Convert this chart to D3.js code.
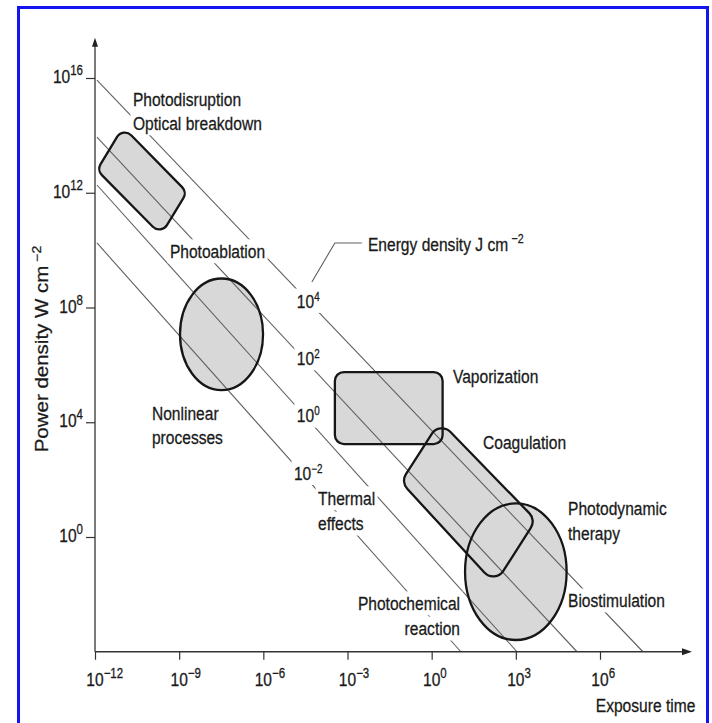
<!DOCTYPE html>
<html>
<head>
<meta charset="utf-8">
<script src="https://cdn.jsdelivr.net/npm/d3@7"></script>
<style>
  html, body { margin: 0; padding: 0; background: #fff; }
  svg { display: block; }
</style>
</head>
<body>
<svg id="chart" width="712" height="723"></svg>
<script>
// ---- axis ticks (powers of ten) ----
const timeTickExps = [-12, -9, -6, -3, 0, 3, 6];      // exposure time, s
const powerTickExps = [0, 4, 8, 12, 16];              // power density, W cm^-2

// ---- iso-energy lines (J cm^-2), as drawn ----
const energyExps = [4, 2, 0, -2];
const energyLineStartLogP = [15.93, 13.94, 12.27, 10.25]; // log10 P where each line leaves t = 1e-12
const energyLineEndLogT = [7.53, 5.18, 3.04, 1.04];       // log10 t where each line meets P = 1e-4

// ---- interaction regions, in (log10 t, log10 P) ----
const disruptionCorners = [[-11.00, 14.29], [-8.72, 12.02], [-9.65, 10.53], [-11.93, 12.79]];
const coagulationCorners = [[0.295, 4.04], [3.716, 0.593], [2.255, -1.638], [-1.095, 1.917]];
const vaporizationLogT = [-3.45, 0.39];
const vaporizationLogP = [3.24, 5.75];
const ablationLogT = [-8.97, -6.01];
const ablationLogP = [5.12, 9.01];
const photodynamicLogT = [1.19, 4.81];
const photodynamicLogP = [-3.59, 1.17];

// ---- region names, placed at (log10 t, log10 P) ----
const regionLabels = [
  ["Photodisruption", -10.65, 15.02, "start"],
  ["Optical breakdown", -10.65, 14.19, "start"],
  ["Photoablation", -9.33, 9.73, "start"],
  ["Nonlinear", -9.97, 4.08, "start"],
  ["processes", -9.97, 3.24, "start"],
  ["Vaporization", 0.76, 5.37, "start"],
  ["Coagulation", 1.83, 3.07, "start"],
  ["Photodynamic", 4.86, 0.77, "start"],
  ["therapy", 4.86, -0.11, "start"],
  ["Biostimulation", 4.86, -2.44, "start"],
  ["Thermal", -4.05, 1.12, "start"],
  ["effects", -4.05, 0.24, "start"],
  ["Photochemical", 1.01, -2.54, "end"],
  ["reaction", 1.01, -3.42, "end"]
];
// leader from the 10^4 line label to its caption
const leaderLogT = [-4.27, -3.45, -2.49];
const leaderLogP = [8.89, 10.25, 10.25];
const energyCaptionPos = [-2.27, 9.97];
const energyLabelLogT = -4.4;

const svg = d3.select("#chart");
const FONT = "'Liberation Sans', Arial, sans-serif";
const SX = 0.82;           // condensed lettering
const TEXT = "#1a1a1a";

const x = d3.scaleLog().domain([1e-12, 1e6]).range([95, 600]);
const y = d3.scaleLog().domain([1e0, 1e16]).range([537, 78]);
const X = e => x(Math.pow(10, e));
const Y = e => y(Math.pow(10, e));

const axisY = Y(-4);       // time axis sits at 1e-4 W cm^-2
const axisX = X(-12);

// frame
svg.append("rect").attr("x", 18.5).attr("y", 7.5).attr("width", 689).attr("height", 717)
  .attr("fill", "#fff").attr("stroke", "#1414f0").attr("stroke-width", 3);

const gFill = svg.append("g");
const gLines = svg.append("g");
const gText = svg.append("g");
const gOutline = svg.append("g");
const gAxis = svg.append("g");

function roundedPoly(pts, r) {
  const p = d3.path();
  const n = pts.length;
  p.moveTo((pts[n - 1][0] + pts[0][0]) / 2, (pts[n - 1][1] + pts[0][1]) / 2);
  for (let i = 0; i < n; i++) {
    const a = pts[i], b = pts[(i + 1) % n];
    p.arcTo(a[0], a[1], b[0], b[1], r);
  }
  p.closePath();
  return p.toString();
}
const toPx = c => [X(c[0]), Y(c[1])];

const shapes = [];
shapes.push({ d: roundedPoly(disruptionCorners.map(toPx), 9) });
shapes.push({ d: roundedPoly([
  [vaporizationLogT[0], vaporizationLogP[1]], [vaporizationLogT[1], vaporizationLogP[1]],
  [vaporizationLogT[1], vaporizationLogP[0]], [vaporizationLogT[0], vaporizationLogP[0]]
].map(toPx), 9) });
shapes.push({ d: roundedPoly(coagulationCorners.map(toPx), 12) });
function ellipsePath(lt, lp) {
  const cx = (X(lt[0]) + X(lt[1])) / 2, cy = (Y(lp[0]) + Y(lp[1])) / 2;
  const rx = Math.abs(X(lt[1]) - X(lt[0])) / 2, ry = Math.abs(Y(lp[1]) - Y(lp[0])) / 2;
  return `M${cx - rx},${cy}A${rx},${ry} 0 1 0 ${cx + rx},${cy}A${rx},${ry} 0 1 0 ${cx - rx},${cy}Z`;
}
shapes.push({ d: ellipsePath(ablationLogT, ablationLogP) });
shapes.push({ d: ellipsePath(photodynamicLogT, photodynamicLogP) });

gFill.selectAll("path").data(shapes).join("path")
  .attr("d", s => s.d).attr("fill", "#d8d8d8").attr("stroke", "none");
gOutline.selectAll("path").data(shapes).join("path")
  .attr("d", s => s.d).attr("fill", "none").attr("stroke", "#161616").attr("stroke-width", 2.3);

// iso-energy lines
gLines.selectAll("line").data(energyExps).join("line")
  .attr("x1", () => X(-11.93)).attr("y1", (e, i) => Y(energyLineStartLogP[i]))
  .attr("x2", (e, i) => X(energyLineEndLogT[i])).attr("y2", axisY)
  .attr("stroke", "#606060").attr("stroke-width", 1.1);

gLines.append("path")
  .attr("d", d3.line()(leaderLogT.map((t, i) => [X(t), Y(leaderLogP[i])])))
  .attr("fill", "none").attr("stroke", "#606060").attr("stroke-width", 1.1);

// text helper: segments are [string, isSuperscript]
function addText(layer, px, py, segs, opt) {
  const o = Object.assign({ anchor: "start", size: 19, sup: 13, raise: 8, sx: SX, sy: 1, rotate: 0, mask: true, center10: false }, opt || {});
  const g = layer.append("g")
    .attr("transform", `translate(${px},${py}) rotate(${o.rotate}) scale(${o.sx},${o.sy})`);
  const t = g.append("text").attr("font-family", FONT).attr("font-size", o.size)
    .attr("fill", TEXT).attr("stroke", TEXT).attr("stroke-width", 0.3)
    .attr("text-anchor", o.anchor);
  let raised = false;
  segs.forEach(([s, sup]) => {
    const ts = t.append("tspan").text(s);
    if (sup && !raised) { ts.attr("dy", -o.raise).attr("font-size", o.sup); raised = true; if (o.supGap) ts.attr("dx", o.supGap); }
    else if (!sup && raised) { ts.attr("dy", o.raise); raised = false; }
    else if (sup) ts.attr("font-size", o.sup);
  });
  if (o.center10) {
    const first = t.select("tspan").node().getComputedTextLength();
    t.attr("x", -first / 2);
  }
  if (o.mask) {
    const b = t.node().getBBox();
    g.insert("rect", "text").attr("x", b.x - 3).attr("y", b.y - 1)
      .attr("width", b.width + 6).attr("height", b.height + 2).attr("fill", "#fff");
  }
  return g;
}

// region names
regionLabels.forEach(([s, lt, lp, anchor]) => addText(gText, X(lt), Y(lp), [[s, false]], { anchor }));

// energy values on their lines
energyExps.forEach(e => addText(gText, X(energyLabelLogT), Y(e + 4),
  [["10", false], [String(e).replace("-", "\u2212"), true]], { anchor: "middle", sup: 12, raise: 7 }));

addText(gText, X(energyCaptionPos[0]), Y(energyCaptionPos[1]),
  [["Energy density J cm", false], ["\u22122", true]], { supGap: 4 });

// axes
const xAxis = d3.axisBottom(x).tickValues(timeTickExps.map(e => Math.pow(10, e)))
  .tickSize(8).tickFormat("");
gAxis.append("g").attr("transform", `translate(0,${axisY})`).call(xAxis)
  .call(g => g.select(".domain").remove())
  .call(g => g.selectAll("line").attr("stroke", "#333").attr("stroke-width", 1.2));

const yAxis = d3.axisLeft(y).tickValues(powerTickExps.map(e => Math.pow(10, e)))
  .tickSize(9).tickFormat("");
gAxis.append("g").attr("transform", `translate(${axisX},0)`).call(yAxis)
  .call(g => g.select(".domain").remove())
  .call(g => g.selectAll("line").attr("stroke", "#333").attr("stroke-width", 1.2));

const xEnd = X(9.28), yTop = Y(17.4);
gAxis.append("line").attr("x1", axisX).attr("y1", axisY).attr("x2", xEnd - 6).attr("y2", axisY)
  .attr("stroke", "#333").attr("stroke-width", 1.3);
gAxis.append("line").attr("x1", axisX).attr("y1", axisY).attr("x2", axisX).attr("y2", yTop + 6)
  .attr("stroke", "#333").attr("stroke-width", 1.3);
gAxis.append("path").attr("d", `M${xEnd},${axisY}L${xEnd - 10},${axisY - 3.5}L${xEnd - 10},${axisY + 3.5}Z`).attr("fill", "#222");
gAxis.append("path").attr("d", `M${axisX},${yTop}L${axisX - 3},${yTop + 9}L${axisX + 3},${yTop + 9}Z`).attr("fill", "#222");

timeTickExps.forEach(e => addText(gAxis, X(e), axisY + 34,
  [["10", false], [String(e).replace("-", "\u2212"), true]], { center10: true, sup: 14, raise: 8, mask: false }));
powerTickExps.forEach(e => addText(gAxis, axisX - 12, Y(e) + 5,
  [["10", false], [String(e).replace("-", "\u2212"), true]], { anchor: "end", sup: 14, raise: 8, mask: false }));

addText(gAxis, X(5.85), axisY + 60, [["Exposure time", false]], { mask: false });
addText(gAxis, 48, 349, [["Power density W cm", false], ["\u22122", true]],
  { anchor: "middle", rotate: -90, sx: 1, sy: 0.85, size: 20.5, sup: 14, raise: 8, supGap: 4, mask: false });
</script>
</body>
</html>
